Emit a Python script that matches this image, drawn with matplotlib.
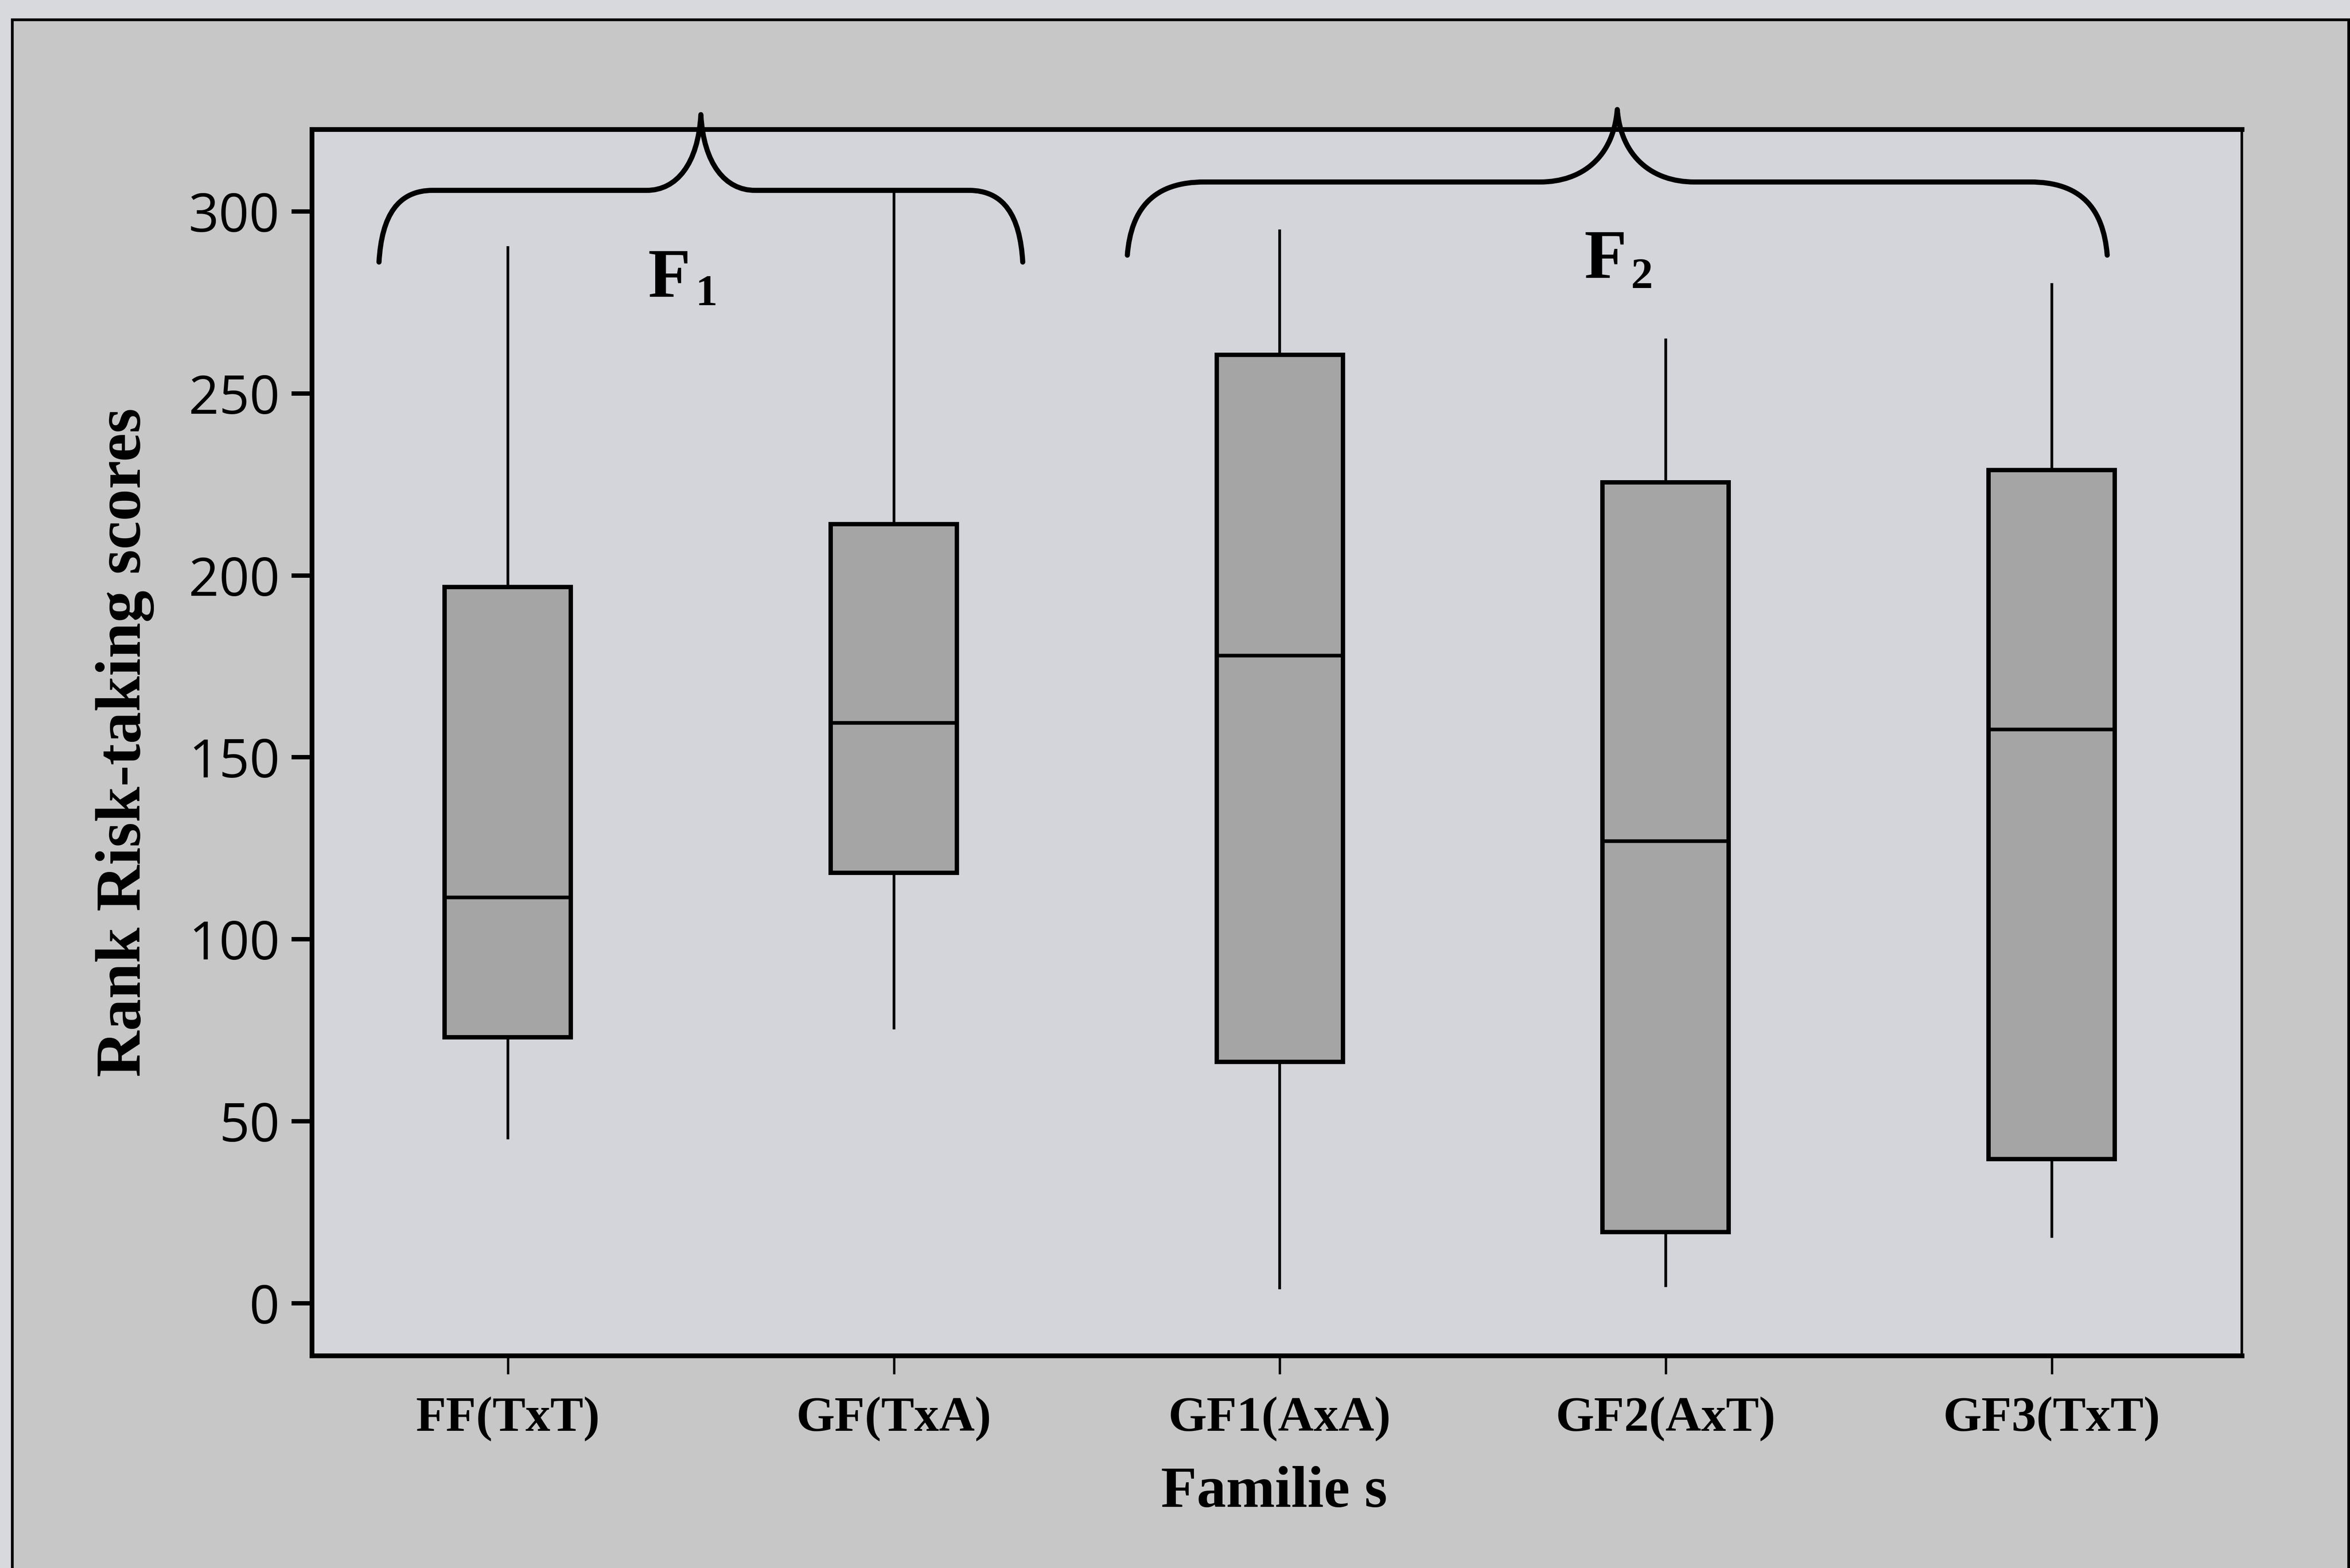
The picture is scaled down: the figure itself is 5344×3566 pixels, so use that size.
import matplotlib
matplotlib.use("Agg")
import matplotlib.pyplot as plt
from matplotlib.patches import Rectangle, PathPatch
from matplotlib.path import Path

# Rank risk-taking scores per family (five-number summaries)
families = ["FF(TxT)", "GF(TxA)", "GF1(AxA)", "GF2(AxT)", "GF3(TxT)"]
whisker_low = [45.4, 75.6, 4.2, 4.8, 18.4]
q1 = [73.1, 118.3, 66.3, 19.6, 39.6]
median = [111.5, 159.5, 178.0, 127.0, 157.7]
q3 = [196.8, 214.1, 260.6, 225.6, 228.9]
whisker_high = [290.1, 305.4, 294.7, 264.7, 279.9]

# Generation groups marked by braces above the boxes
generation_names = ["F", "F"]
generation_subs = ["1", "2"]

y_ticks = [0, 50, 100, 150, 200, 250, 300]

SERIF = ["Liberation Serif", "DejaVu Serif"]
SANS = ["Open Sans", "DejaVu Sans"]

fig = plt.figure(figsize=(5344 / 300, 3566 / 300), dpi=300)
fig.patch.set_facecolor("#d8d9dc")

# outer panel frame
fig.add_artist(Rectangle((0.0052, -0.05), 0.9942, 1.0374, transform=fig.transFigure,
                         facecolor="#c7c7c8", edgecolor="black", lw=1.5, zorder=0))

ax = fig.add_axes([0.1327, 0.1354, 0.954 - 0.1327, 0.9176 - 0.1354])
ax.set_facecolor("#d4d5da")

positions = list(range(1, len(families) + 1))
stats = [dict(med=m, q1=a, q3=b, whislo=lo, whishi=hi, fliers=[], label=name)
         for name, lo, a, m, b, hi in zip(families, whisker_low, q1, median, q3, whisker_high)]

ax.bxp(stats, positions=positions, widths=0.327, patch_artist=True,
       showcaps=False, showfliers=False,
       boxprops=dict(facecolor="#a5a5a5", edgecolor="black", linewidth=2.4),
       medianprops=dict(color="black", linewidth=2.0),
       whiskerprops=dict(color="black", linewidth=1.5))

ax.set_xlim(0.492, 5.493)
ax.set_ylim(-14.4, 322.6)
ax.set_yticks(y_ticks)
ax.set_yticklabels([str(t) for t in y_ticks], fontfamily=SANS, fontsize=29)
ax.set_xticks(positions)
ax.set_xticklabels(families, fontfamily=SERIF, fontsize=27, fontweight="bold")

ax.tick_params(axis="y", length=11, width=2.4, pad=6.5, color="black")
ax.tick_params(axis="x", length=10, width=1.3, pad=12, color="black")

for side in ["left", "top", "bottom"]:
    ax.spines[side].set_linewidth(2.6)
ax.spines["right"].set_linewidth(1.4)

ax.set_ylabel("Rank Risk-taking scores", fontfamily=SERIF, fontsize=35, fontweight="bold")
ax.yaxis.set_label_coords(-0.0815, 0.5)
ax.set_xlabel("Familie s", fontfamily=SERIF, fontsize=32, fontweight="bold")
ax.xaxis.set_label_coords(0.4986, -0.090)


def draw_brace(ax, x0, x1, y_bar, drop, rise, r, lw=2.8):
    """Curly brace from x0 to x1 with its point upward at the middle."""
    xc = (x0 + x1) / 2
    ye = y_bar - drop
    yt = y_bar + rise
    verts = [
        (x0, ye), (x0 + 0.05 * r, ye + 0.65 * drop), (x0 + 0.35 * r, y_bar), (x0 + r, y_bar),
        (xc - r, y_bar),
        (xc - 0.45 * r, y_bar), (xc - 0.05 * r, y_bar + 0.35 * rise), (xc, yt),
        (xc + 0.05 * r, y_bar + 0.35 * rise), (xc + 0.45 * r, y_bar), (xc + r, y_bar),
        (x1 - r, y_bar),
        (x1 - 0.35 * r, y_bar), (x1 - 0.05 * r, ye + 0.65 * drop), (x1, ye),
    ]
    C = Path.CURVE4
    codes = [Path.MOVETO, C, C, C, Path.LINETO, C, C, C, C, C, C, Path.LINETO, C, C, C]
    ax.add_patch(PathPatch(Path(verts, codes), fill=False, lw=lw, edgecolor="black",
                           clip_on=False, capstyle="round", joinstyle="round", zorder=5))


# brace extents (x0, x1, bar height, drop, rise, corner size)
braces = [(0.666, 2.334, 305.8, 19.7, 20.8, 0.14),
          (2.605, 5.144, 308.1, 20.1, 19.9, 0.20)]
for b in braces:
    draw_brace(ax, *b)

# generation labels F1 / F2
label_pos = [(1.418, 276.5, 1.515, 274.3), (3.844, 281.7, 3.938, 279.0)]
for name, sub, (fx, fy, sx, sy) in zip(generation_names, generation_subs, label_pos):
    ax.text(fx, fy, name, fontfamily=SERIF, fontsize=38, fontweight="bold",
            ha="center", va="baseline")
    ax.text(sx, sy, sub, fontfamily=SERIF, fontsize=24, fontweight="bold",
            ha="center", va="baseline")

fig.savefig("out.png", dpi=300, facecolor=fig.get_facecolor())
